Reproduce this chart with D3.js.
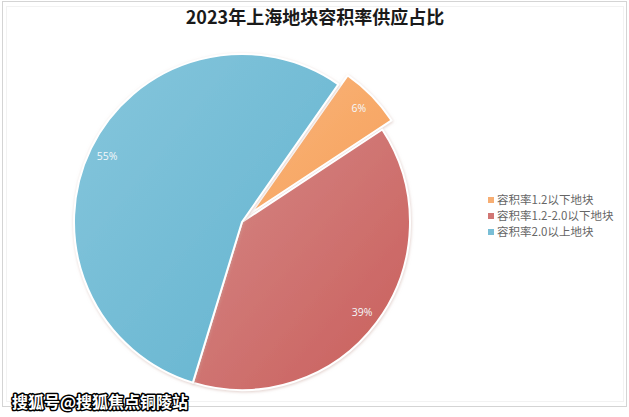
<!DOCTYPE html>
<html>
<head>
<meta charset="utf-8">
<script src="https://cdn.jsdelivr.net/npm/d3@7"></script>
<style>
  html, body { margin: 0; padding: 0; background: #fff; }
  svg { display: block; }
</style>
</head>
<body>
<svg id="chart" width="629" height="417"></svg>
<script>
// data
const categories = ["容积率1.2以下地块", "容积率1.2-2.0以下地块", "容积率2.0以上地块"];
const shares = [6, 39, 55];
const sliceColors = ["#f6a05a", "#c95e5b", "#62b3cf"];
const lightColors = ["#f9b57b", "#d58886", "#86c6dc"];
const exploded = [true, false, false];
const titleText = "2023年上海地块容积率供应占比";
const watermark = "搜狐号@搜狐焦点铜陵站";

document.addEventListener('DOMContentLoaded', () => {
    drawChart();
});

function drawChart() {
    const svg = d3.select("#chart");
    const cx = 242, cy = 222, radius = 168, labelR = 150, explode = 13;

    const defs = svg.append("defs");
    const shadow = defs.append("filter").attr("id", "glow")
        .attr("x", "-20%").attr("y", "-20%").attr("width", "140%").attr("height", "140%");
    shadow.append("feDropShadow")
        .attr("dx", 0.5).attr("dy", 1)
        .attr("stdDeviation", 1.6)
        .attr("flood-color", "#c9a9a0")
        .attr("flood-opacity", 0.55);

    categories.forEach((c, i) => {
        const g = defs.append("linearGradient").attr("id", "grad" + i)
            .attr("x1", "0%").attr("y1", "0%").attr("x2", "100%").attr("y2", "100%");
        g.append("stop").attr("offset", "0%").attr("stop-color", lightColors[i]);
        g.append("stop").attr("offset", "100%").attr("stop-color", sliceColors[i]);
    });

    // chart frame
    svg.append("rect").attr("x", 2.5).attr("y", 1.5).attr("width", 624).attr("height", 405)
        .attr("fill", "#fff").attr("stroke", "#d4d4d4").attr("stroke-width", 1);
    svg.append("rect").attr("x", 6.5).attr("y", 6.5).attr("width", 617).attr("height", 395)
        .attr("fill", "none").attr("stroke", "#f2f2f2").attr("stroke-width", 1);

    svg.append("text")
        .attr("x", 315).attr("y", 24)
        .attr("text-anchor", "middle")
        .attr("font-family", "'Noto Sans CJK SC', sans-serif")
        .attr("font-weight", "bold")
        .attr("font-size", 18)
        .attr("fill", "#1a1a1a")
        .text(titleText);

    const pie = d3.pie().sort(null).value(d => d)
        .startAngle(35 * Math.PI / 180)
        .endAngle(35 * Math.PI / 180 + 2 * Math.PI);
    const arcs = pie(shares);
    const arc = d3.arc().innerRadius(0).outerRadius(radius);

    const pieG = svg.append("g").attr("transform", `translate(${cx},${cy})`);

    const slices = pieG.selectAll("g.slice")
        .data(arcs)
        .enter().append("g")
        .attr("class", "slice")
        .attr("transform", (d, i) => {
            if (!exploded[i]) return null;
            const mid = (d.startAngle + d.endAngle) / 2;
            return `translate(${Math.sin(mid) * explode},${-Math.cos(mid) * explode})`;
        });

    slices.append("path")
        .attr("d", arc)
        .attr("fill", (d, i) => `url(#grad${i})`)
        .attr("stroke", "#fff")
        .attr("stroke-width", 2)
        .attr("stroke-linejoin", "round")
        .attr("filter", "url(#glow)");

    slices.append("text")
        .attr("x", d => Math.sin((d.startAngle + d.endAngle) / 2) * labelR)
        .attr("y", d => -Math.cos((d.startAngle + d.endAngle) / 2) * labelR)
        .attr("dy", "0.35em")
        .attr("text-anchor", "middle")
        .attr("font-family", "'Open Sans', sans-serif")
        .attr("font-size", 10.5)
        .attr("fill", "#f4f8fa")
        .text(d => d.data + "%");

    // legend
    const legend = svg.append("g").attr("transform", "translate(488,200)");
    const rows = legend.selectAll("g").data(categories).enter().append("g")
        .attr("transform", (d, i) => `translate(0,${i * 16})`);
    rows.append("rect")
        .attr("x", 0).attr("y", -3).attr("width", 6).attr("height", 6)
        .attr("fill", (d, i) => sliceColors[i]).attr("opacity", 0.85);
    rows.append("text")
        .attr("x", 9).attr("dy", "0.35em")
        .attr("font-family", "'Noto Sans CJK SC', sans-serif")
        .attr("font-size", 11.5)
        .attr("fill", "#666")
        .text(d => d);

    // watermark overlay
    svg.append("text")
        .attr("x", 12).attr("y", 408)
        .attr("font-family", "'Noto Sans CJK SC', sans-serif")
        .attr("font-weight", "bold")
        .attr("font-size", 16)
        .attr("fill", "#fff")
        .attr("stroke", "#000")
        .attr("stroke-width", 3)
        .attr("stroke-linejoin", "round")
        .attr("paint-order", "stroke")
        .text(watermark);
}
</script>
</body>
</html>
